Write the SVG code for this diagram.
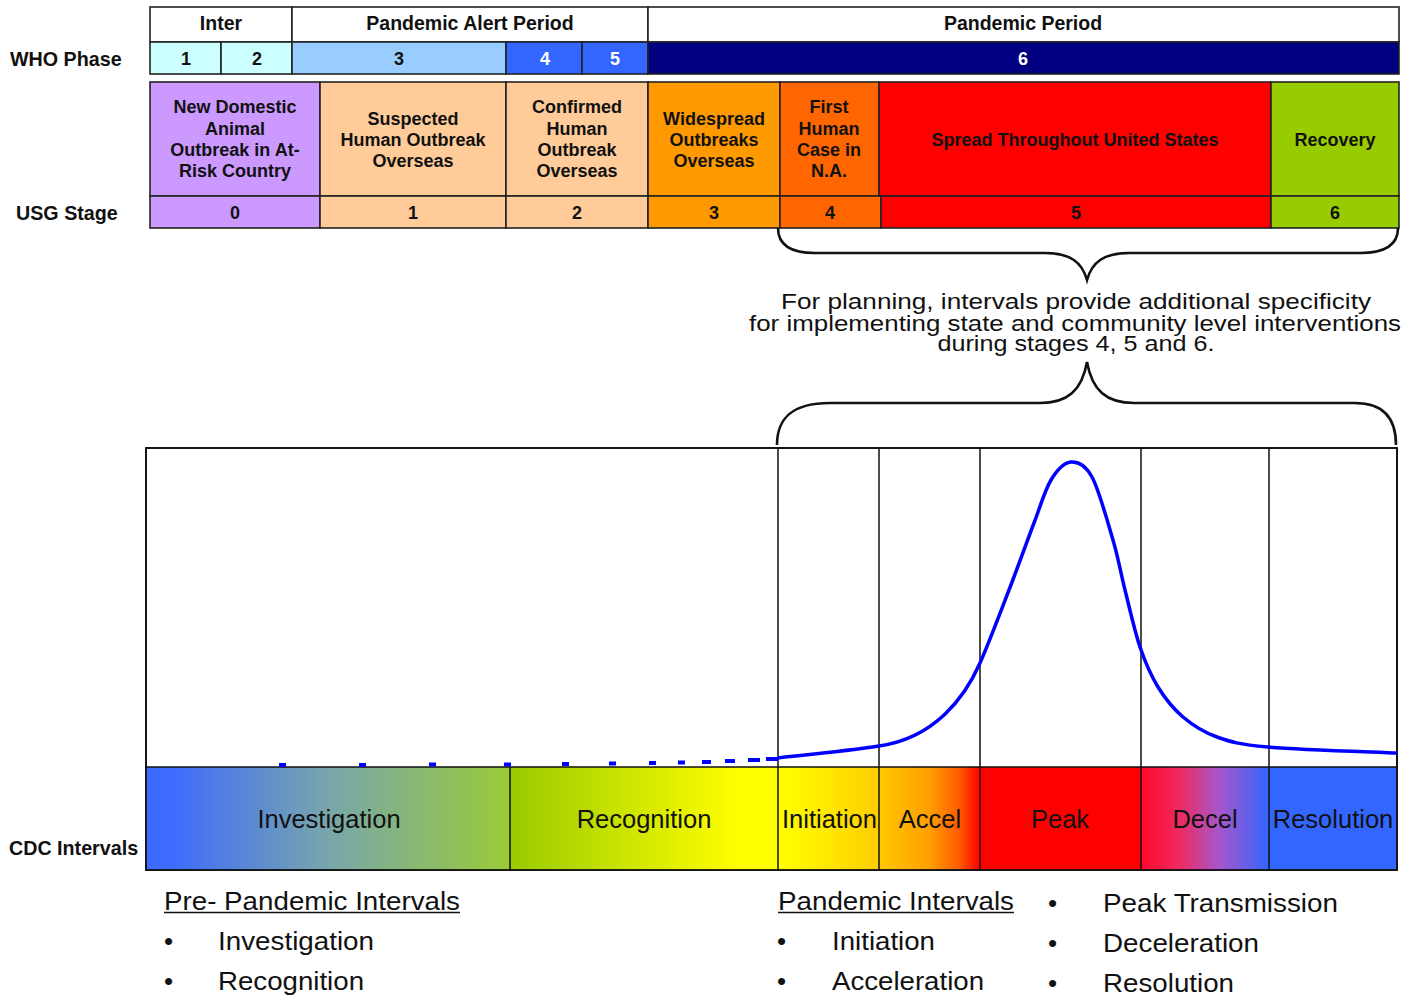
<svg xmlns="http://www.w3.org/2000/svg" width="1411" height="998" viewBox="0 0 1411 998">
<defs>
<style>
text{font-family:"Liberation Sans",Arial,Helvetica,sans-serif;fill:#111}
.h{font-weight:bold;font-size:19.5px;text-anchor:middle}
.s{font-weight:bold;font-size:18px;text-anchor:middle}
.w{fill:#fff}
.lab{font-weight:bold;font-size:19.7px}
.bar{font-size:25.5px;text-anchor:middle}
.bl{font-size:26px}
.note{font-size:22.5px;text-anchor:middle}
.cell{stroke:#222;stroke-width:1.6}
.grid{stroke:#111;stroke-width:1.5;fill:none}
.brace{stroke:#111;stroke-width:2.6;fill:none}
</style>
<linearGradient id="gInv" x1="0" x2="1" y1="0" y2="0">
<stop offset="0" stop-color="#3a6bff"/><stop offset="0.08" stop-color="#3f6cfb"/><stop offset="0.5" stop-color="#78a6ab"/><stop offset="1" stop-color="#9acb36"/>
</linearGradient>
<linearGradient id="gRec" x1="0" x2="1" y1="0" y2="0">
<stop offset="0" stop-color="#99cc00"/><stop offset="0.2" stop-color="#b0d600"/><stop offset="0.85" stop-color="#ffff00"/><stop offset="1" stop-color="#ffff00"/>
</linearGradient>
<linearGradient id="gIni" x1="0" x2="1" y1="0" y2="0">
<stop offset="0" stop-color="#ffff00"/><stop offset="0.3" stop-color="#fff200"/><stop offset="1" stop-color="#ffcc00"/>
</linearGradient>
<linearGradient id="gAcc" x1="0" x2="1" y1="0" y2="0">
<stop offset="0" stop-color="#ffc800"/><stop offset="0.5" stop-color="#ff9e00"/><stop offset="0.8" stop-color="#ff5a00"/><stop offset="1" stop-color="#ff0000"/>
</linearGradient>
<linearGradient id="gDec" x1="0" x2="1" y1="0" y2="0">
<stop offset="0" stop-color="#ff0a2a"/><stop offset="0.3" stop-color="#ee2a60"/><stop offset="0.6" stop-color="#a955c8"/><stop offset="1" stop-color="#3366ff"/>
</linearGradient>
</defs>
<rect width="1411" height="998" fill="#fff"/>

<g id="row-labels">
<text class="lab" x="10" y="66">WHO Phase</text>
<text class="lab" x="16" y="220">USG Stage</text>
<text class="lab" x="9" y="855">CDC Intervals</text>
</g>

<g id="who-periods">
<rect class="cell" x="150" y="7" width="142" height="35" fill="#fff"/>
<rect class="cell" x="292" y="7" width="356" height="35" fill="#fff"/>
<rect class="cell" x="648" y="7" width="751" height="35" fill="#fff"/>
<text class="h" x="221" y="30">Inter</text>
<text class="h" x="470" y="30">Pandemic Alert Period</text>
<text class="h" x="1023" y="30">Pandemic Period</text>
</g>

<g id="who-phases">
<rect class="cell" x="150" y="42" width="71" height="32" fill="#ccffff"/>
<rect class="cell" x="221" y="42" width="71" height="32" fill="#ccffff"/>
<rect class="cell" x="292" y="42" width="214" height="32" fill="#99ccff"/>
<rect class="cell" x="506" y="42" width="76" height="32" fill="#3366ff"/>
<rect class="cell" x="582" y="42" width="66" height="32" fill="#3366ff"/>
<rect class="cell" x="648" y="42" width="751" height="32" fill="#000080"/>
<text class="s" x="186" y="65">1</text>
<text class="s" x="257" y="65">2</text>
<text class="s" x="399" y="65">3</text>
<text class="s w" x="545" y="65">4</text>
<text class="s w" x="615" y="65">5</text>
<text class="s w" x="1023" y="65">6</text>
</g>

<g id="stage-0">
<rect class="cell" x="150" y="82" width="170" height="114" fill="#cc99ff"/>
<rect class="cell" x="150" y="196" width="170" height="32" fill="#cc99ff"/>
<text class="s" x="235" y="113">New Domestic</text>
<text class="s" x="235" y="135">Animal</text>
<text class="s" x="235" y="156">Outbreak in At-</text>
<text class="s" x="235" y="177">Risk Country</text>
<text class="s" x="235" y="219">0</text>
</g>
<g id="stage-1">
<rect class="cell" x="320" y="82" width="186" height="114" fill="#ffcc99"/>
<rect class="cell" x="320" y="196" width="186" height="32" fill="#ffcc99"/>
<text class="s" x="413" y="125">Suspected</text>
<text class="s" x="413" y="146">Human Outbreak</text>
<text class="s" x="413" y="167">Overseas</text>
<text class="s" x="413" y="219">1</text>
</g>
<g id="stage-2">
<rect class="cell" x="506" y="82" width="142" height="114" fill="#ffcc99"/>
<rect class="cell" x="506" y="196" width="142" height="32" fill="#ffcc99"/>
<text class="s" x="577" y="113">Confirmed</text>
<text class="s" x="577" y="135">Human</text>
<text class="s" x="577" y="156">Outbreak</text>
<text class="s" x="577" y="177">Overseas</text>
<text class="s" x="577" y="219">2</text>
</g>
<g id="stage-3">
<rect class="cell" x="648" y="82" width="132" height="114" fill="#ff9900"/>
<rect class="cell" x="648" y="196" width="132" height="32" fill="#ff9900"/>
<text class="s" x="714" y="125">Widespread</text>
<text class="s" x="714" y="146">Outbreaks</text>
<text class="s" x="714" y="167">Overseas</text>
<text class="s" x="714" y="219">3</text>
</g>
<g id="stage-4">
<rect class="cell" x="780" y="82" width="99" height="114" fill="#ff6600"/>
<rect class="cell" x="780" y="196" width="101" height="32" fill="#ff6600"/>
<text class="s" x="829" y="113">First</text>
<text class="s" x="829" y="135">Human</text>
<text class="s" x="829" y="156">Case in</text>
<text class="s" x="829" y="177">N.A.</text>
<text class="s" x="830" y="219">4</text>
</g>
<g id="stage-5">
<rect class="cell" x="879" y="82" width="392" height="114" fill="#ff0000"/>
<rect class="cell" x="881" y="196" width="390" height="32" fill="#ff0000"/>
<text class="s" x="1075" y="146">Spread Throughout United States</text>
<text class="s" x="1076" y="219">5</text>
</g>
<g id="stage-6">
<rect class="cell" x="1271" y="82" width="128" height="114" fill="#99cc00"/>
<rect class="cell" x="1271" y="196" width="128" height="32" fill="#99cc00"/>
<text class="s" x="1335" y="146">Recovery</text>
<text class="s" x="1335" y="219">6</text>
</g>

<g id="connectors">
<path class="brace" d="M778 228 C778 245 790 253 815 253 L1045 253 C1070 253 1082 262 1087 280 C1092 262 1104 253 1129 253 L1360 253 C1385 253 1398 245 1398 228"/>
<path class="brace" d="M777 445 C777 420 790 403 830 403 L1040 403 C1068 403 1082 390 1087 362 C1092 390 1106 403 1134 403 L1355 403 C1385 403 1396 420 1396 445"/>
</g>

<g id="note">
<text class="note" x="1076" y="309" textLength="590" lengthAdjust="spacingAndGlyphs">For planning, intervals provide additional specificity</text>
<text class="note" x="1075" y="331" textLength="652" lengthAdjust="spacingAndGlyphs">for implementing state and community level interventions</text>
<text class="note" x="1076" y="351" textLength="277" lengthAdjust="spacingAndGlyphs">during stages 4, 5 and 6.</text>
</g>

<g id="chart">
<rect x="146" y="448" width="1251" height="422" fill="#fff" stroke="#111" stroke-width="1.6"/>
<rect x="146" y="767" width="364" height="103" fill="url(#gInv)"/>
<rect x="510" y="767" width="268" height="103" fill="url(#gRec)"/>
<rect x="778" y="767" width="101" height="103" fill="url(#gIni)"/>
<rect x="879" y="767" width="101" height="103" fill="url(#gAcc)"/>
<rect x="980" y="767" width="161" height="103" fill="#ff0000"/>
<rect x="1141" y="767" width="128" height="103" fill="url(#gDec)"/>
<rect x="1269" y="767" width="128" height="103" fill="#3366ff"/>
<path class="grid" d="M146 767 H1397 M510 767 V870 M778 448 V870 M879 448 V870 M980 448 V870 M1141 448 V870 M1269 448 V870"/>
<rect x="146" y="448" width="1251" height="422" fill="none" stroke="#111" stroke-width="1.8"/>
</g>

<g id="curve">
<path fill="none" stroke="#0000ff" stroke-width="4" stroke-linecap="butt" d="M279 765 h7 M359 765 h7 M429 764.5 h7 M504 764.5 h7 M562 764 h7 M609 763.5 h7 M649 763 h7 M678 762.5 h7 M702 762 h9 M725 761 h10 M748 760 h12 M766 759 h12"/>
<path fill="none" stroke="#0000ff" stroke-width="3.5" stroke-linejoin="round" d="M778 758 C810 754.5 850 750.5 879 746 C935 738 965 697 980 663 C988.3 644.2 1000 613.3 1009 590 C1018 566.7 1027 541.3 1034 523 C1041 504.7 1044.8 490.2 1051 480 C1057.2 469.8 1064.2 462.5 1071 462 C1077.8 461.5 1085 464 1092 477 C1099 490 1107.5 521.2 1113 540 C1118.5 558.8 1120.5 572.2 1125 590 C1129.5 607.8 1134.5 630.8 1140 647 C1145.5 663.2 1150.8 675.3 1158 687 C1165.2 698.7 1173.2 708.7 1183 717 C1192.8 725.3 1202.8 732 1217 737 C1231.2 742 1238 744.3 1268 747 C1298 749.7 1375.5 752 1397 753"/>
</g>

<g id="interval-labels">
<text class="bar" x="329" y="828">Investigation</text>
<text class="bar" x="644" y="828">Recognition</text>
<text class="bar" x="782" y="828" style="text-anchor:start">Initiation</text>
<text class="bar" x="930" y="828">Accel</text>
<text class="bar" x="1060" y="828">Peak</text>
<text class="bar" x="1205" y="828">Decel</text>
<text class="bar" x="1333" y="828">Resolution</text>
</g>

<g id="legend">
<text class="bl" x="164" y="910" textLength="296" lengthAdjust="spacingAndGlyphs">Pre- Pandemic Intervals</text>
<path d="M164 912.5 H460 M778 912.5 H1014" stroke="#111" stroke-width="1.6"/>
<text class="bl" x="164" y="950">•</text>
<text class="bl" x="218" y="950" textLength="156" lengthAdjust="spacingAndGlyphs">Investigation</text>
<text class="bl" x="164" y="990">•</text>
<text class="bl" x="218" y="990" textLength="146" lengthAdjust="spacingAndGlyphs">Recognition</text>
<text class="bl" x="778" y="910" textLength="236" lengthAdjust="spacingAndGlyphs">Pandemic Intervals</text>
<text class="bl" x="777" y="950">•</text>
<text class="bl" x="832" y="950" textLength="103" lengthAdjust="spacingAndGlyphs">Initiation</text>
<text class="bl" x="777" y="990">•</text>
<text class="bl" x="832" y="990" textLength="152" lengthAdjust="spacingAndGlyphs">Acceleration</text>
<text class="bl" x="1048" y="912">•</text>
<text class="bl" x="1103" y="912" textLength="235" lengthAdjust="spacingAndGlyphs">Peak Transmission</text>
<text class="bl" x="1048" y="952">•</text>
<text class="bl" x="1103" y="952" textLength="156" lengthAdjust="spacingAndGlyphs">Deceleration</text>
<text class="bl" x="1048" y="992">•</text>
<text class="bl" x="1103" y="992" textLength="131" lengthAdjust="spacingAndGlyphs">Resolution</text>
</g>
</svg>
